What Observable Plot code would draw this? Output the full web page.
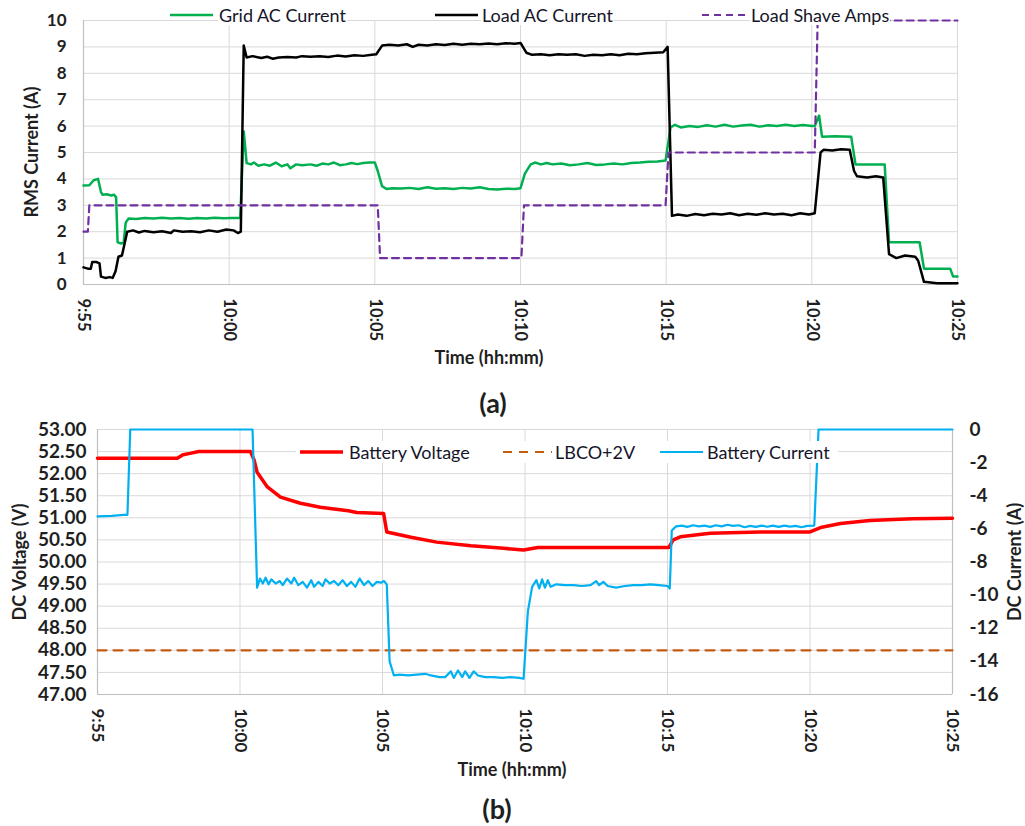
<!DOCTYPE html>
<html><head><meta charset="utf-8">
<script src="https://cdn.jsdelivr.net/npm/d3@7"></script>
<script src="https://cdn.jsdelivr.net/npm/@observablehq/plot@0.6"></script>
<style>
body{margin:0;background:#fff;font-family:Lato,"Open Sans",sans-serif;}
#wrap{position:relative;width:1025px;height:826px;overflow:hidden;background:#fff}
.abs{position:absolute;white-space:nowrap;color:#1f1f1f}
.ttl{font-weight:bold;font-size:18px}
.lab{font-weight:bold;font-size:27px}
.leg{font-size:18px;color:#15152a;line-height:20px;background:#fff;padding:0 1px}
.vt{transform:translate(-50%,-50%) rotate(-90deg)}
.ct{transform:translate(-50%,-50%)}
svg.plot{position:absolute;left:0}
</style></head>
<body><div id="wrap"></div>
<script>
// ---- shared x ticks (minutes after 9:55) ----
const tickMinutes = [0, 5, 10, 15, 20, 25, 30];
const tickLabels = ["9:55", "10:00", "10:05", "10:10", "10:15", "10:20", "10:25"];

// ---- (a) RMS currents: [minute, amps] ----
const gridAC = [
[0,3.75],[0.2,3.76],[0.35,3.95],[0.5,4.0],[0.6,3.5],[0.66,3.4],[0.8,3.42],[0.95,3.37],[1.05,3.4],[1.12,3.3],[1.17,1.6],[1.3,1.55],[1.38,1.6],[1.45,2.35],[1.55,2.5],
[1.8,2.48],[2.1,2.52],[2.4,2.5],[2.7,2.53],[3.0,2.5],[3.3,2.52],[3.6,2.49],[3.9,2.52],[4.2,2.5],[4.5,2.53],[4.8,2.51],[5.1,2.52],[5.38,2.52],
[5.5,5.8],[5.6,4.6],[5.75,4.55],[5.85,4.62],[6.0,4.5],[6.2,4.55],[6.4,4.5],[6.6,4.62],[6.8,4.48],[7.0,4.55],[7.1,4.4],[7.3,4.55],[7.5,4.52],[7.8,4.55],[8.0,4.5],[8.2,4.58],[8.4,4.55],[8.6,4.62],[8.8,4.52],[9.0,4.55],[9.2,4.6],[9.4,4.56],[9.6,4.6],[9.8,4.62],[10.0,4.62],
[10.1,4.3],[10.25,3.72],[10.4,3.62],[10.6,3.65],[10.9,3.64],[11.2,3.66],[11.5,3.62],[11.8,3.68],[12.1,3.63],[12.4,3.65],[12.7,3.62],[13.0,3.66],[13.3,3.64],[13.6,3.68],[13.9,3.62],[14.2,3.6],[14.5,3.63],[14.8,3.62],[15.0,3.65],
[15.15,4.2],[15.35,4.55],[15.5,4.62],[15.7,4.55],[15.9,4.6],[16.1,4.55],[16.4,4.58],[16.7,4.52],[17.0,4.55],[17.3,4.6],[17.6,4.53],[17.9,4.55],[18.2,4.58],[18.5,4.55],[18.8,4.6],[19.1,4.62],[19.4,4.65],[19.7,4.66],[19.98,4.7],
[20.15,5.95],[20.3,6.05],[20.5,5.95],[20.8,6.0],[21.1,5.97],[21.4,6.03],[21.7,5.98],[22.0,6.05],[22.3,5.98],[22.6,6.02],[22.9,6.05],[23.2,5.98],[23.5,6.03],[23.8,6.0],[24.1,6.05],[24.4,6.0],[24.7,6.04],[25.0,6.0],[25.1,6.0],
[25.25,6.4],[25.35,5.6],[25.8,5.62],[26.35,5.6],[26.5,4.55],[27.0,4.55],[27.5,4.55],[27.65,1.6],[28.1,1.6],[28.7,1.6],[28.85,0.6],[29.3,0.6],[29.75,0.6],[29.85,0.3],[30,0.3]
];
const loadAC = [
[0,0.65],[0.15,0.6],[0.25,0.6],[0.3,0.85],[0.45,0.85],[0.55,0.8],[0.6,0.3],[0.75,0.25],[0.9,0.28],[1.0,0.25],[1.1,0.5],[1.2,1.05],[1.32,1.1],[1.4,1.5],[1.5,2.0],[1.7,2.05],[1.9,1.97],[2.1,2.03],[2.4,1.98],[2.7,2.02],[3.0,1.95],[3.1,2.05],[3.4,2.0],[3.7,2.02],[4.0,1.98],[4.3,2.05],[4.6,2.0],[4.9,2.08],[5.15,2.05],[5.3,1.95],[5.4,2.0],
[5.5,9.05],[5.6,8.6],[5.8,8.65],[6.1,8.58],[6.3,8.63],[6.5,8.55],[6.7,8.6],[7.0,8.62],[7.3,8.6],[7.5,8.65],[7.8,8.63],[8.1,8.65],[8.4,8.62],[8.7,8.67],[9.0,8.64],[9.3,8.68],[9.6,8.66],[9.9,8.7],[10.05,8.72],
[10.25,9.05],[10.5,9.08],[10.8,9.05],[11.1,9.1],[11.3,9.0],[11.5,9.08],[11.8,9.05],[12.1,9.1],[12.4,9.07],[12.7,9.12],[13.0,9.08],[13.3,9.12],[13.6,9.1],[13.9,9.13],[14.2,9.1],[14.5,9.14],[14.8,9.12],[15.0,9.15],
[15.2,8.78],[15.4,8.7],[15.7,8.72],[16.0,8.68],[16.3,8.72],[16.6,8.7],[16.9,8.72],[17.2,8.66],[17.5,8.7],[17.8,8.68],[18.1,8.72],[18.4,8.68],[18.7,8.74],[19.0,8.72],[19.3,8.76],[19.6,8.78],[19.9,8.8],[20.05,9.0],
[20.2,2.6],[20.4,2.65],[20.7,2.6],[21.0,2.67],[21.3,2.62],[21.6,2.68],[21.9,2.65],[22.2,2.7],[22.5,2.62],[22.8,2.68],[23.1,2.64],[23.4,2.7],[23.7,2.65],[24.0,2.68],[24.3,2.62],[24.6,2.7],[24.9,2.65],[25.1,2.7],
[25.3,5.0],[25.4,5.1],[25.7,5.08],[26.0,5.12],[26.3,5.1],[26.45,4.3],[26.55,4.1],[26.9,4.05],[27.2,4.1],[27.45,4.05],[27.65,1.15],[27.9,1.0],[28.2,1.1],[28.55,1.05],[28.65,0.9],[28.85,0.1],[29.3,0.05],[29.7,0.05],[30,0.05]
];
const loadShave = [[0,2],[0.15,2],[0.2,3],[10.1,3],[10.18,1],[15.03,1],[15.12,3],[19.98,3],[20.08,5],[25.1,5],[25.2,10],[30,10]];

// ---- (b) battery: voltage [minute, V], current [minute, A] ----
const batteryVoltage = [
[0,52.35],[2.8,52.35],[3.0,52.43],[3.25,52.46],[3.55,52.5],[5.37,52.5],[5.5,52.3],[5.6,52.03],[5.96,51.7],[6.42,51.47],[7.12,51.33],[7.82,51.24],[8.3,51.2],[8.8,51.16],[9.1,51.12],[10.04,51.1],[10.15,50.68],[11.0,50.56],[11.9,50.45],[13.1,50.37],[14.25,50.31],[14.95,50.27],[15.45,50.33],[20.05,50.33],[20.2,50.5],[20.45,50.57],[21.5,50.65],[23.26,50.68],[25.0,50.68],[25.37,50.78],[26.07,50.87],[27.1,50.94],[28.6,50.98],[30,50.99]
];
const lbcoPlus2V = [[0,48.0],[30,48.0]];
const batteryCurrent = [
[0,-5.25],[0.5,-5.22],[0.9,-5.15],[1.05,-5.15],[1.15,0],[5.44,0],[5.6,-9.55],[5.7,-9.0],[5.8,-9.3],[5.9,-8.95],[6.0,-9.35],[6.1,-9.05],[6.25,-9.3],[6.4,-9.15],[6.5,-9.4],[6.65,-9.0],[6.8,-9.3],[6.9,-8.95],[7.05,-9.4],[7.2,-9.2],[7.35,-9.55],[7.5,-9.1],[7.6,-9.5],[7.75,-9.2],[7.9,-9.45],[8.0,-9.05],[8.15,-9.3],[8.3,-9.15],[8.45,-9.4],[8.6,-9.1],[8.75,-9.45],[8.9,-9.2],[9.05,-9.5],[9.2,-9.0],[9.35,-9.4],[9.5,-9.15],[9.65,-9.45],[9.8,-9.2],[9.95,-9.25],[10.05,-9.15],[10.15,-9.35],
[10.25,-14.0],[10.4,-14.85],[10.6,-14.8],[10.9,-14.85],[11.2,-14.8],[11.5,-14.75],[11.7,-14.85],[12.0,-14.95],[12.2,-14.95],[12.4,-14.6],[12.5,-15.0],[12.65,-14.55],[12.8,-14.95],[12.9,-14.6],[13.05,-15.0],[13.2,-14.6],[13.35,-14.85],[13.6,-14.95],[13.9,-14.95],[14.2,-15.0],[14.5,-14.95],[14.8,-15.0],[14.95,-15.05],
[15.1,-11.0],[15.25,-9.5],[15.4,-9.1],[15.5,-9.6],[15.6,-9.05],[15.7,-9.55],[15.8,-9.1],[15.9,-9.5],[16.1,-9.35],[16.4,-9.4],[16.7,-9.4],[17.0,-9.45],[17.3,-9.4],[17.5,-9.15],[17.6,-9.4],[17.75,-9.2],[17.9,-9.45],[18.2,-9.55],[18.5,-9.45],[18.8,-9.4],[19.1,-9.4],[19.4,-9.35],[19.7,-9.4],[20.0,-9.45],[20.08,-9.6],
[20.15,-6.1],[20.3,-5.85],[20.5,-5.8],[20.7,-5.88],[20.9,-5.78],[21.1,-5.85],[21.3,-5.8],[21.5,-5.88],[21.7,-5.78],[21.9,-5.85],[22.1,-5.75],[22.3,-5.82],[22.5,-5.78],[22.7,-5.9],[22.9,-5.82],[23.1,-5.88],[23.3,-5.8],[23.5,-5.87],[23.7,-5.8],[23.9,-5.88],[24.1,-5.8],[24.3,-5.86],[24.5,-5.82],[24.7,-5.9],[24.9,-5.82],[25.15,-5.8],[25.3,0],[30,0]
];
const voltTicks = [47,47.5,48,48.5,49,49.5,50,50.5,51,51.5,52,52.5,53];
const currTicks = [0,-2,-4,-6,-8,-10,-12,-14,-16];

// current (A) -> voltage-axis position: 0 A at 53 V, -16 A at 47 V
const c2v = c => 53 + c * 6 / 16;
const v2c = v => Math.round((v - 53) * 16 / 6);
const fmtT = d => tickLabels[tickMinutes.indexOf(d)];

const wrap = document.getElementById("wrap");
const font = {fontFamily: "Lato, 'Open Sans', sans-serif", fontSize: "17px", fontWeight: "bold", color: "#1f1f1f", background: "transparent", overflow: "visible"};

const chartA = Plot.plot({
  width: 1025, height: 360,
  marginTop: 20, marginBottom: 76, marginLeft: 83, marginRight: 68,
  style: font,
  x: {domain: [0, 30]},
  y: {domain: [0, 10]},
  marks: [
    Plot.gridY(d3.range(0, 11), {stroke: "#d9d9d9", strokeOpacity: 1}),
    Plot.gridX(tickMinutes, {stroke: "#d9d9d9", strokeOpacity: 1}),
    Plot.ruleY([0], {stroke: "#bfbfbf", strokeWidth: 1.2}),
    Plot.ruleX([0], {stroke: "#bfbfbf", strokeWidth: 1.2}),
    Plot.axisY(d3.range(0, 11), {tickSize: 0, tickPadding: 17, fontSize: 17, label: null}),
    Plot.axisX(tickMinutes, {tickSize: 0, tickPadding: 14, tickRotate: 90, fontSize: 16.5, tickFormat: fmtT, label: null}),
    Plot.line(gridAC, {x: d => d[0], y: d => d[1], stroke: "#00b050", strokeWidth: 2.5}),
    Plot.line(loadAC, {x: d => d[0], y: d => d[1], stroke: "#000000", strokeWidth: 2.5}),
    Plot.line(loadShave, {x: d => d[0], y: d => d[1], stroke: "#7030a0", strokeWidth: 2.2, strokeDasharray: "7,5"})
  ]
});
chartA.style.top = "0px";
chartA.classList.add("plot");

const chartB = Plot.plot({
  width: 1025, height: 360,
  marginTop: 19, marginBottom: 76, marginLeft: 97, marginRight: 73,
  style: font,
  x: {domain: [0, 30]},
  y: {domain: [47, 53]},
  marks: [
    Plot.gridY(voltTicks, {stroke: "#d9d9d9", strokeOpacity: 1}),
    Plot.gridX(tickMinutes, {stroke: "#d9d9d9", strokeOpacity: 1}),
    Plot.ruleY([47], {stroke: "#bfbfbf", strokeWidth: 1.2}),
    Plot.ruleX([0, 30], {stroke: "#bfbfbf", strokeWidth: 1.2}),
    Plot.axisY(voltTicks, {anchor: "left", tickSize: 0, tickPadding: 11, fontSize: 19, tickFormat: d => d.toFixed(2), label: null}),
    Plot.axisY(currTicks.map(c2v), {anchor: "right", tickSize: 0, tickPadding: 17, fontSize: 19, tickFormat: v2c, label: null}),
    Plot.axisX(tickMinutes, {tickSize: 0, tickPadding: 14, tickRotate: 90, fontSize: 17, tickFormat: fmtT, label: null}),
    Plot.line(lbcoPlus2V, {x: d => d[0], y: d => d[1], stroke: "#c55a11", strokeWidth: 2.2, strokeDasharray: "9,7"}),
    Plot.line(batteryVoltage, {x: d => d[0], y: d => d[1], stroke: "#ff0000", strokeWidth: 3.5}),
    Plot.line(batteryCurrent, {x: d => d[0], y: d => c2v(d[1]), stroke: "#00b0f0", strokeWidth: 2.2})
  ]
});
chartB.style.top = "410px";
chartB.classList.add("plot");

wrap.appendChild(chartA);
wrap.appendChild(chartB);

function addText(txt, cls, x, y, extra) {
  const d = document.createElement("div");
  d.className = "abs " + cls;
  d.textContent = txt;
  d.style.left = x + "px";
  d.style.top = y + "px";
  if (extra) Object.assign(d.style, extra);
  wrap.appendChild(d);
  return d;
}
function addLegend(items, y, bg) {
  if (bg) {
    const b = document.createElement("div");
    b.className = "abs";
    Object.assign(b.style, {left: bg[0] + "px", top: (y - 11) + "px", width: (bg[1] - bg[0]) + "px", height: "22px", background: "#fff"});
    wrap.appendChild(b);
  }
  for (const it of items) {
    const ns = "http://www.w3.org/2000/svg";
    const s = document.createElementNS(ns, "svg");
    s.setAttribute("width", it.x1 - it.x0);
    s.setAttribute("height", 10);
    Object.assign(s.style, {position: "absolute", left: it.x0 + "px", top: (y - 5) + "px"});
    const l = document.createElementNS(ns, "line");
    l.setAttribute("x1", 0); l.setAttribute("x2", it.x1 - it.x0);
    l.setAttribute("y1", 5); l.setAttribute("y2", 5);
    l.setAttribute("stroke", it.color); l.setAttribute("stroke-width", it.w);
    if (it.dash) l.setAttribute("stroke-dasharray", it.dash);
    s.appendChild(l);
    wrap.appendChild(s);
    addText(it.label, "leg", it.tx, y - 10);
  }
}

// axis titles and panel labels
addText("RMS Current (A)", "ttl vt", 31, 152);
addText("Time (hh:mm)", "ttl ct", 489, 357);
addText("(a)", "lab ct", 493, 402);
addText("DC Voltage (V)", "ttl vt", 19, 562);
addText("DC Current (A)", "ttl vt", 1014, 562);
addText("Time (hh:mm)", "ttl ct", 512, 769);
addText("(b)", "lab ct", 497, 808);

addLegend([
  {label: "Grid AC Current", color: "#00b050", w: 2.5, x0: 170, x1: 213, tx: 218},
  {label: "Load AC Current", color: "#000000", w: 2.5, x0: 435, x1: 478, tx: 481},
  {label: "Load Shave Amps", color: "#7030a0", w: 2.2, dash: "7,5", x0: 702, x1: 750, tx: 750}
], 15);
addLegend([
  {label: "Battery Voltage", color: "#ff0000", w: 3.5, x0: 300, x1: 343, tx: 348},
  {label: "LBCO+2V", color: "#c55a11", w: 2.2, dash: "9,7", x0: 503, x1: 552, tx: 554},
  {label: "Battery Current", color: "#00b0f0", w: 2.2, x0: 660, x1: 703, tx: 706}
], 452, [296, 838]);
</script>
</body></html>
